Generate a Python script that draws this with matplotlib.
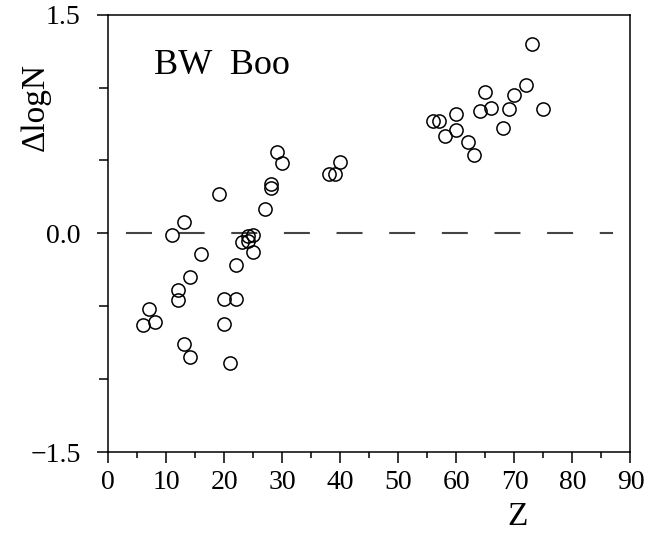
import numpy as np
import matplotlib
matplotlib.use('Agg')
import matplotlib.pyplot as plt
from matplotlib.ticker import MultipleLocator, FuncFormatter

plt.rcParams['font.family'] = ['Liberation Serif', 'DejaVu Serif']
plt.rcParams['lines.scale_dashes'] = False

# Data: atomic number vs abundance residual
Z = [6, 7, 8, 11, 12, 12, 13, 13, 14, 14, 16, 19, 20, 20, 21, 22, 22,
     23, 24, 24, 25, 25, 27, 28, 28, 29, 30, 38, 39, 40,
     56, 57, 58, 60, 60, 62, 63, 64, 65, 66, 68, 69, 70, 72, 73, 75]
dlogN = [-0.63, -0.52, -0.61, -0.01, -0.39, -0.46, 0.08, -0.76, -0.30, -0.85,
         -0.14, 0.27, -0.45, -0.62, -0.89, -0.22, -0.45,
         -0.06, -0.02, -0.05, -0.01, -0.13, 0.17, 0.31, 0.34, 0.56, 0.48,
         0.41, 0.41, 0.49,
         0.77, 0.77, 0.67, 0.82, 0.71, 0.63, 0.54, 0.84, 0.97, 0.86, 0.72,
         0.85, 0.95, 1.02, 1.30, 0.85]
star = 'BW  Boo'

fig = plt.figure(figsize=(6.6, 5.35), dpi=100)
ax = fig.add_axes([0.1641, 0.1551, 0.7912, 0.8174])

# Zero line
ax.plot([3, 87], [0, 0], color='#444444', lw=1.5, dashes=[18.7, 19.2])

ax.plot(Z, dlogN, 'o', mfc='none', mec='black', ms=9.5, mew=1.1)

ax.set_xlim(0, 90)
ax.set_ylim(-1.5, 1.5)
ax.xaxis.set_major_locator(MultipleLocator(10))
ax.xaxis.set_minor_locator(MultipleLocator(5))
ax.yaxis.set_major_locator(MultipleLocator(1.5))
ax.yaxis.set_minor_locator(MultipleLocator(0.5))
ax.yaxis.set_major_formatter(FuncFormatter(lambda v, p: ('%.1f' % v).replace('-', '\u2212')))

ax.tick_params(axis='x', which='major', direction='out', length=8, width=1.1,
               pad=5, labelsize=20, top=False)
ax.tick_params(axis='x', which='minor', direction='out', length=4, width=1.1,
               top=False)
ax.tick_params(axis='y', which='major', direction='out', length=8, width=1.1,
               pad=12, labelsize=20, right=False)
ax.tick_params(axis='y', which='minor', direction='out', length=6.5, width=1.1,
               right=False)
for s in ax.spines.values():
    s.set_linewidth(1.1)

ax.text(0.783, -0.149, 'Z', transform=ax.transAxes, ha='center', va='center',
        fontsize=24)
ax.text(-0.1385, 0.79, '\u0394logN', transform=ax.transAxes, rotation=90,
        ha='center', va='center', fontsize=24)
ax.text(0.0875, 0.865, star, transform=ax.transAxes, ha='left', va='baseline',
        fontsize=26)

plt.savefig('out.png', dpi=100)
